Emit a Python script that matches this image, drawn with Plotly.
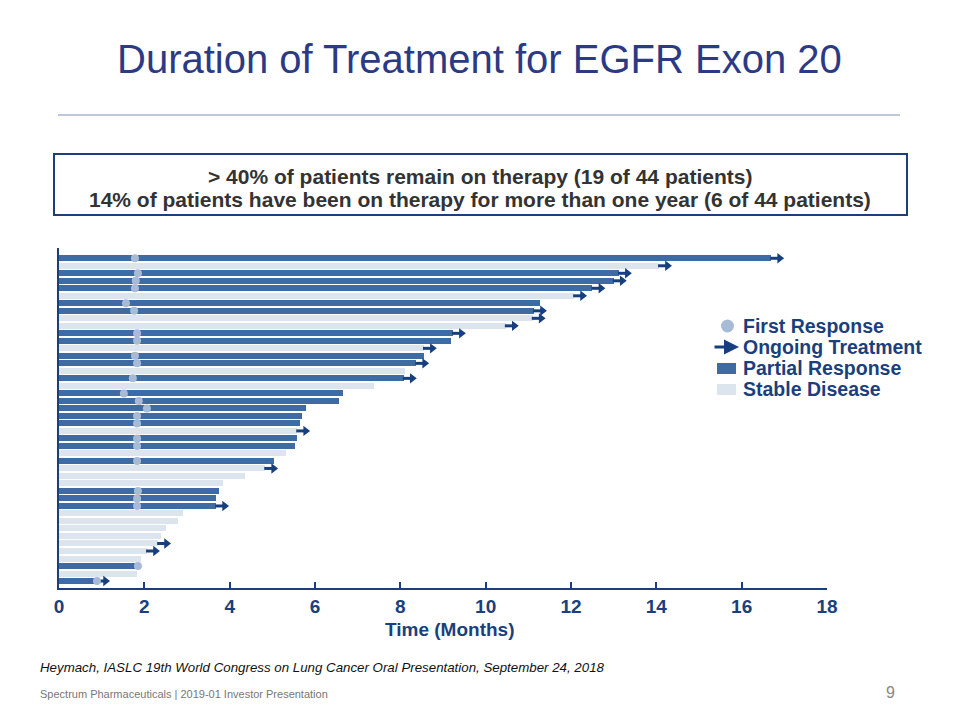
import plotly.graph_objects as go

# ---------------- data (rows listed top to bottom) ----------------
patients = list(range(1, 45))
duration_months = [16.69, 14.06, 13.12, 13.00, 12.50, 12.07, 11.27, 11.13, 11.10, 10.47,
                   9.23, 9.19, 8.55, 8.55, 8.37, 8.10, 8.08, 7.38, 6.65, 6.56,
                   5.79, 5.70, 5.65, 5.58, 5.57, 5.53, 5.32, 5.04, 4.83, 4.36,
                   3.84, 3.75, 3.68, 3.68, 2.90, 2.79, 2.50, 2.39, 2.32, 2.06,
                   1.92, 1.85, 1.82, 0.89]
best_response = ["PR", "SD", "PR", "PR", "PR", "SD", "PR", "PR", "SD", "SD",
                 "PR", "PR", "SD", "PR", "PR", "SD", "PR", "SD", "PR", "PR",
                 "PR", "PR", "PR", "SD", "PR", "PR", "SD", "PR", "SD", "SD",
                 "SD", "PR", "PR", "PR", "SD", "SD", "SD", "SD", "SD", "SD",
                 "SD", "PR", "SD", "PR"]
first_response = [1.78, None, 1.85, 1.80, 1.78, None, 1.57, 1.76, None, None,
                  1.83, 1.83, None, 1.78, 1.83, None, 1.73, None, 1.52, 1.87,
                  2.06, 1.83, 1.83, None, 1.83, 1.83, None, 1.83, None, None,
                  None, 1.85, 1.83, 1.83, None, None, None, None, None, None,
                  None, 1.85, None, 0.89]
ongoing = [1, 1, 1, 1, 1, 1, 0, 1, 1, 1,
           1, 0, 1, 0, 1, 0, 1, 0, 0, 0,
           0, 0, 0, 1, 0, 0, 0, 0, 1, 0,
           0, 0, 0, 1, 0, 0, 0, 0, 1, 1,
           0, 0, 0, 1]
x_ticks = [0, 2, 4, 6, 8, 10, 12, 14, 16, 18]

# ---------------- styles ----------------
FONT = "Liberation Sans, Arial, sans-serif"
PR_COLOR = "#3E6BA3"
SD_COLOR = "#DCE4EE"
ARROW_COLOR = "#173F7E"
DOT_COLOR = "#A8BBD6"
AXIS_COLOR = "#1B3F7D"
TITLE_COLOR = "#2C3A86"

fig = go.Figure()

pr_rows = [p for p, r in zip(patients, best_response) if r == "PR"]
pr_dur = [d for d, r in zip(duration_months, best_response) if r == "PR"]
sd_rows = [p for p, r in zip(patients, best_response) if r == "SD"]
sd_dur = [d for d, r in zip(duration_months, best_response) if r == "SD"]

fig.add_trace(go.Bar(y=sd_rows, x=sd_dur, base=0, orientation="h", width=0.8,
                     marker=dict(color=SD_COLOR, line=dict(width=0)), showlegend=False))
fig.add_trace(go.Bar(y=pr_rows, x=pr_dur, base=0, orientation="h", width=0.8,
                     marker=dict(color=PR_COLOR, line=dict(width=0)), showlegend=False))

# ongoing-treatment arrows
ax_, ay_, hx, hy = [], [], [], []
for p, d, o in zip(patients, duration_months, ongoing):
    if o:
        ax_ += [d - 0.02, d + 0.18, None]
        ay_ += [p, p, None]
        hx.append(d + 0.2)
        hy.append(p)
fig.add_trace(go.Scatter(x=ax_, y=ay_, mode="lines",
                         line=dict(color=ARROW_COLOR, width=3), showlegend=False,
                         hoverinfo="skip"))
fig.add_trace(go.Scatter(x=hx, y=hy, mode="markers",
                         marker=dict(symbol="triangle-right", size=9, color=ARROW_COLOR),
                         showlegend=False))

# first response dots
fx = [f for f in first_response if f is not None]
fy = [p for p, f in zip(patients, first_response) if f is not None]
fig.add_trace(go.Scatter(x=fx, y=fy, mode="markers",
                         marker=dict(symbol="circle", size=8, color=DOT_COLOR),
                         showlegend=False))

# ---------------- layout ----------------
L, R, T, B = 59, 827, 248, 588


def px(x):
    return (x - L) / (R - L)


def py(y):
    return (B - y) / (B - T)


fig.update_layout(
    width=960, height=720,
    margin=dict(l=L, r=960 - R, t=T, b=720 - B, pad=0),
    plot_bgcolor="white", paper_bgcolor="white",
    barmode="overlay", bargap=0,
    showlegend=False,
    font=dict(family=FONT),
    xaxis=dict(range=[0, 18], tickvals=x_ticks, ticktext=[str(t) for t in x_ticks],
               showgrid=False, zeroline=False, showline=True, linecolor=AXIS_COLOR,
               linewidth=2, ticks="inside", ticklen=6, tickwidth=1.5,
               tickcolor=AXIS_COLOR,
               tickfont=dict(family=FONT, size=19, color=AXIS_COLOR, weight="bold")),
    yaxis=dict(range=[44.93, -0.37], showgrid=False, zeroline=False, showline=True,
               linecolor=AXIS_COLOR, linewidth=2, showticklabels=False, ticks=""),
)

shapes = []
annotations = []

# x-axis title
annotations.append(dict(text="Time (Months)", x=px(449), y=py(629), xref="paper",
                        yref="paper", showarrow=False, xanchor="center", yanchor="middle",
                        font=dict(family=FONT, size=19, color=AXIS_COLOR, weight="bold")))

# title + rule
annotations.append(dict(text="Duration of Treatment for EGFR Exon 20", x=px(479), y=py(59),
                        xref="paper", yref="paper", showarrow=False, xanchor="center",
                        yanchor="middle", font=dict(family=FONT, size=40, color=TITLE_COLOR)))
shapes.append(dict(type="line", xref="paper", yref="paper", x0=px(58), x1=px(900),
                   y0=py(115), y1=py(115), line=dict(color="#8090B8", width=1.2)))

# message box
shapes.append(dict(type="rect", xref="paper", yref="paper", x0=px(54), x1=px(907),
                   y0=py(154), y1=py(215), line=dict(color="#1F3D7A", width=2),
                   fillcolor="white"))
annotations.append(dict(text="> 40% of patients remain on therapy (19 of 44 patients)",
                        x=px(480), y=py(176), xref="paper", yref="paper", showarrow=False,
                        xanchor="center", yanchor="middle",
                        font=dict(family=FONT, size=21, color="#333333", weight="bold")))
annotations.append(dict(text="14% of patients have been on therapy for more than one year (6 of 44 patients)",
                        x=px(480), y=py(199), xref="paper", yref="paper", showarrow=False,
                        xanchor="center", yanchor="middle",
                        font=dict(family=FONT, size=21, color="#333333", weight="bold")))

# manual legend
LEG_TXT = dict(family=FONT, size=19.5, color=AXIS_COLOR, weight="bold")
leg_y = [326, 347, 368, 389]
leg_lbl = ["First Response", "Ongoing Treatment", "Partial Response", "Stable Disease"]
for yy, lbl in zip(leg_y, leg_lbl):
    annotations.append(dict(text=lbl, x=px(741), y=py(yy), xref="paper", yref="paper",
                            showarrow=False, xanchor="left", yanchor="middle", font=LEG_TXT))
shapes.append(dict(type="circle", xref="paper", yref="paper", x0=px(721), x1=px(734),
                   y0=py(332.5), y1=py(319.5), fillcolor=DOT_COLOR, line=dict(width=0)))
annotations.append(dict(text="", x=px(739), y=py(347), ax=-26, ay=0, xref="paper",
                        yref="paper", showarrow=True, arrowhead=2, arrowsize=1,
                        arrowwidth=3, arrowcolor=ARROW_COLOR))
shapes.append(dict(type="rect", xref="paper", yref="paper", x0=px(717), x1=px(736),
                   y0=py(374), y1=py(363), fillcolor=PR_COLOR, line=dict(width=0)))
shapes.append(dict(type="rect", xref="paper", yref="paper", x0=px(717), x1=px(736),
                   y0=py(395), y1=py(384), fillcolor=SD_COLOR, line=dict(width=0)))

# footnotes
annotations.append(dict(text="<i>Heymach, IASLC 19th World Congress on Lung Cancer Oral Presentation, September 24, 2018</i>",
                        x=px(38), y=py(667), xref="paper", yref="paper", showarrow=False,
                        xanchor="left", yanchor="middle",
                        font=dict(family=FONT, size=13.3, color="#111111")))
annotations.append(dict(text="Spectrum Pharmaceuticals | 2019-01 Investor Presentation",
                        x=px(38), y=py(694), xref="paper", yref="paper", showarrow=False,
                        xanchor="left", yanchor="middle",
                        font=dict(family=FONT, size=11, color="#777777")))
annotations.append(dict(text="9", x=px(890), y=py(692), xref="paper", yref="paper",
                        showarrow=False, xanchor="center", yanchor="middle",
                        font=dict(family=FONT, size=16, color="#888888")))

fig.update_layout(shapes=shapes, annotations=annotations)
fig.write_html("out.html", config={"displayModeBar": False},
               post_script="document.body.style.margin='0';")
